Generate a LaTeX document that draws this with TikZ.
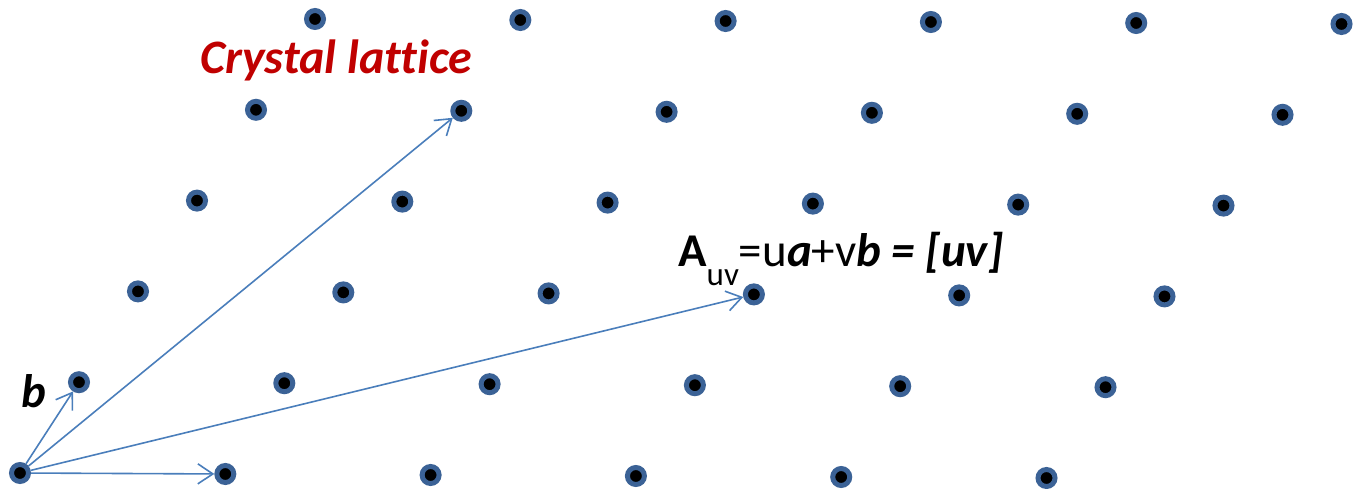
\documentclass[tikz,border=0pt]{standalone}
\usepackage{fontspec}
\setmainfont{Carlito}[Ligatures=NoCommon]
\usetikzlibrary{arrows.meta}
\definecolor{dotblue}{HTML}{3B6296}
\definecolor{vecblue}{HTML}{4A7EBB}
\definecolor{titlered}{HTML}{C00000}
\begin{document}
\begin{tikzpicture}[x=1pt,y=-1pt,
  latdot/.style={circle,draw=dotblue,fill=black,line width=5pt,minimum size=17pt,inner sep=0pt},
  vec/.style={draw=vecblue,line width=1.6pt,-{Straight Barb[length=15pt,width=20pt,line width=1.6pt]}}]
\useasboundingbox (0,0) rectangle (1366,489);
\foreach \i in {0,...,5}{
  \foreach \j in {0,...,5}{
    \node[latdot] (p\i\j) at ({20+205.3*\i+59.0*\j},{473+1.0*\i-90.8*\j}) {};
  }
}
\draw[vec] (p00) -- (p10);
\draw[vec] (p00) -- (p01);
\draw[vec] (p00) -- (p14);
\draw[vec] (p00) -- (p32);
\node[anchor=base west,inner sep=0pt,text=titlered,font=\fontsize{48}{48}\selectfont\bfseries\itshape] (title) at (200,74) {Crystal lattice};
\node[anchor=base west,inner sep=0pt,font=\fontsize{47}{47}\selectfont\bfseries\itshape] (blabel) at (21,407) {b};
\node[anchor=base west,inner sep=0pt,font=\fontsize{47}{47}\selectfont] (eq) at (678,266) {\textbf{A}\raisebox{-20pt}{\fontsize{33}{33}\selectfont uv}=u\textbf{\textit{a}}+v\textbf{\textit{b = [uv]}}};
\end{tikzpicture}
\end{document}
